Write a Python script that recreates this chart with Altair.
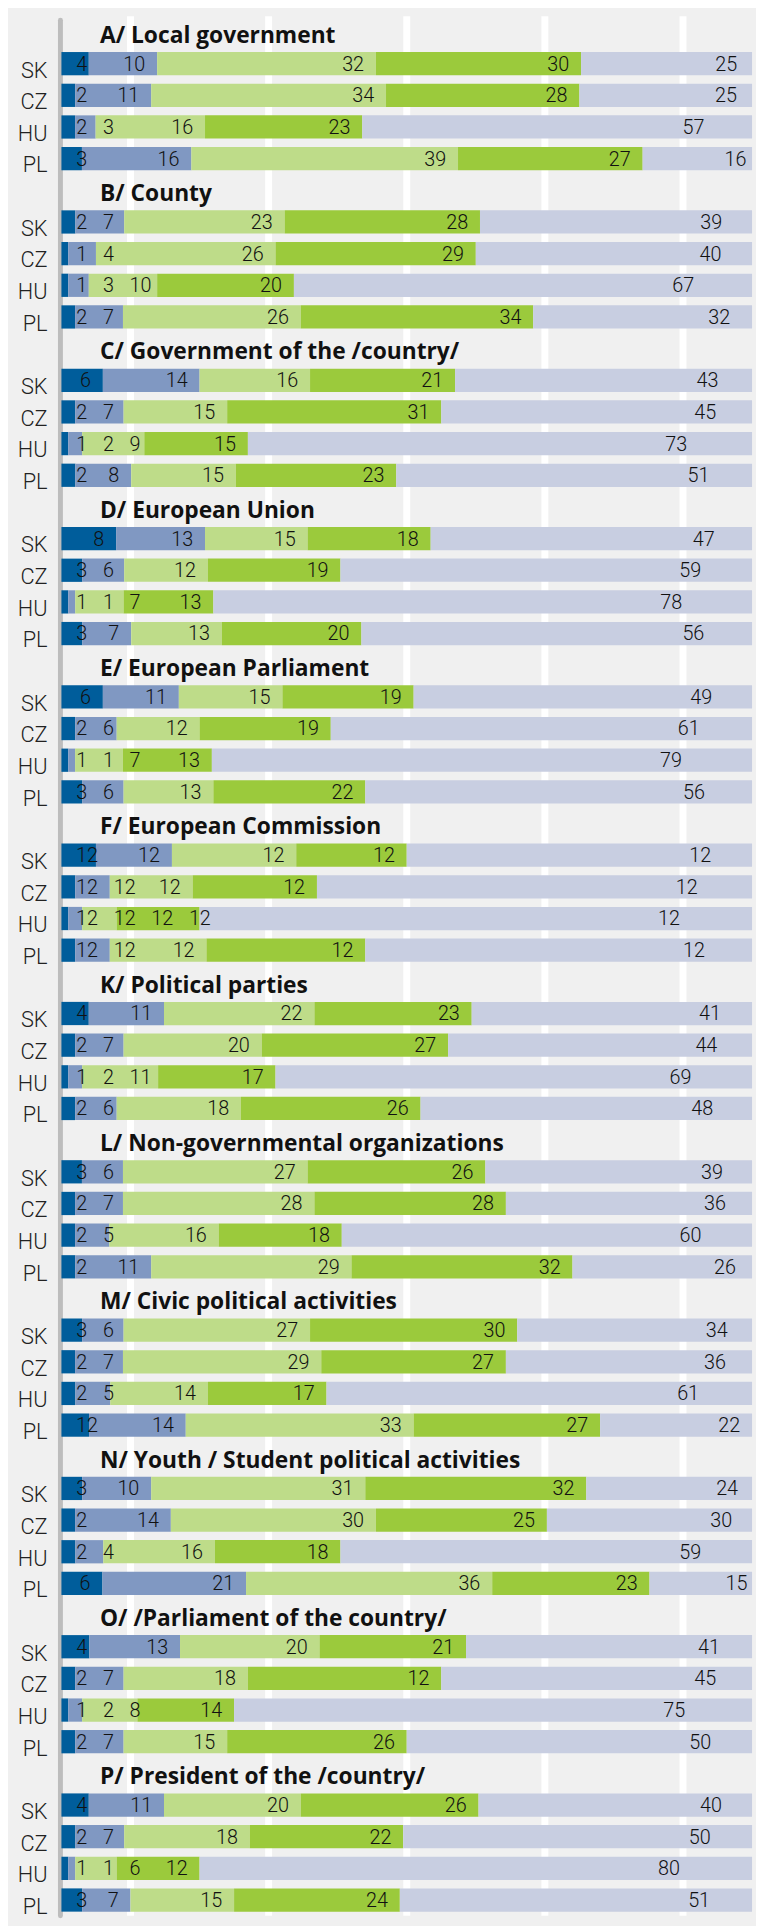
import altair as alt
import pandas as pd

# ---------------- data ----------------
PANEL_TITLES = [
    "A/ Local government",
    "B/ County",
    "C/ Government of the /country/",
    "D/ European Union",
    "E/ European Parliament",
    "F/ European Commission",
    "K/ Political parties",
    "L/ Non-governmental organizations",
    "M/ Civic political activities",
    "N/ Youth / Student political activities",
    "O/ /Parliament of the country/",
    "P/ President of the /country/",
]
COUNTRIES = ["SK", "CZ", "HU", "PL"]
SEGMENTS = ["1", "2", "3", "4", "5"]
COLORS = ["#005d9b", "#8098c2", "#bedc89", "#9bca3c", "#c8cee1"]
GRID_TICKS = [0.1, 0.3, 0.5, 0.7, 0.9]

# bar values (rows: SK, CZ, HU, PL; columns: the five answer categories)
panel_A = [[4, 10, 32, 30, 25], [2, 11, 34, 28, 25], [2, 3, 16, 23, 57], [3, 16, 39, 27, 16]]
panel_B = [[2, 7, 23, 28, 39], [1, 4, 26, 29, 40], [1, 3, 10, 20, 67], [2, 7, 26, 34, 32]]
panel_C = [[6, 14, 16, 21, 43], [2, 7, 15, 31, 45], [1, 2, 9, 15, 73], [2, 8, 15, 23, 51]]
panel_D = [[8, 13, 15, 18, 47], [3, 6, 12, 19, 59], [1, 1, 7, 13, 78], [3, 7, 13, 20, 56]]
panel_E = [[6, 11, 15, 19, 49], [2, 6, 12, 19, 61], [1, 1, 7, 13, 79], [3, 6, 13, 22, 56]]
panel_F = [[5, 11, 18, 16, 50], [2, 5, 12, 18, 63], [1, 2, 5, 12, 80], [2, 5, 14, 23, 56]]
panel_K = [[4, 11, 22, 23, 41], [2, 7, 20, 27, 44], [1, 2, 11, 17, 69], [2, 6, 18, 26, 48]]
panel_L = [[3, 6, 27, 26, 39], [2, 7, 28, 28, 36], [2, 5, 16, 18, 60], [2, 11, 29, 32, 26]]
panel_M = [[3, 6, 27, 30, 34], [2, 7, 29, 27, 36], [2, 5, 14, 17, 61], [4, 14, 33, 27, 22]]
panel_N = [[3, 10, 31, 32, 24], [2, 14, 30, 25, 30], [2, 4, 16, 18, 59], [6, 21, 36, 23, 15]]
panel_O = [[4, 13, 20, 21, 41], [2, 7, 18, 28, 45], [1, 2, 8, 14, 75], [2, 7, 15, 26, 50]]
panel_P = [[4, 11, 20, 26, 40], [2, 7, 18, 22, 50], [1, 1, 6, 12, 80], [3, 7, 15, 24, 51]]

# printed labels where they differ from the bars in the original
labels_F = [[12, 12, 12, 12, 12], [12, 12, 12, 12, 12], [12, 12, 12, 12, 12], [12, 12, 12, 12, 12]]
labels_M = [[3, 6, 27, 30, 34], [2, 7, 29, 27, 36], [2, 5, 14, 17, 61], [12, 14, 33, 27, 22]]
labels_O = [[4, 13, 20, 21, 41], [2, 7, 18, 12, 45], [1, 2, 8, 14, 75], [2, 7, 15, 26, 50]]

BAR_VALUES = [panel_A, panel_B, panel_C, panel_D, panel_E, panel_F,
              panel_K, panel_L, panel_M, panel_N, panel_O, panel_P]
LABEL_VALUES = [panel_A, panel_B, panel_C, panel_D, panel_E, labels_F,
                panel_K, panel_L, labels_M, panel_N, labels_O, panel_P]

# ---------------- layout constants ----------------
W = 698          # plot width
ROW = 32         # band step
H = ROW * 5 * len(PANEL_TITLES) - 2
DIGIT = 11.0     # approx digit width of label font

# ---------------- tables ----------------
keys, bar_rows, lab_rows, cty_rows, title_rows = [], [], [], [], []
for pi, (title, bars, labs) in enumerate(zip(PANEL_TITLES, BAR_VALUES, LABEL_VALUES)):
    tkey = f"{pi:02d}_title"
    keys.append(tkey)
    title_rows.append({"row": tkey, "text": title})
    for ci, c in enumerate(COUNTRIES):
        rkey = f"{pi:02d}_{c}"
        keys.append(rkey)
        cty_rows.append({"row": rkey, "text": c})
        v = bars[ci]
        lv = labs[ci]
        tot = float(sum(v))
        cum = 0.0
        prev_right = None
        for si in range(5):
            bar_rows.append({"row": rkey, "seg": SEGMENTS[si], "order": si, "value": v[si]})
            start = cum / tot * W
            cum += v[si]
            end = cum / tot * W
            tw = DIGIT * len(str(lv[si]))
            if si < 4:
                nat = end - 12
            else:
                nat = start + 0.85 * (end - start) + tw / 2
            mn = 15 + tw if prev_right is None else prev_right + 16 + tw
            r = max(nat, mn)
            prev_right = r
            lab_rows.append({"row": rkey, "text": str(lv[si]), "lx": r / W})

bars_df = pd.DataFrame(bar_rows)
labs_df = pd.DataFrame(lab_rows)
cty_df = pd.DataFrame(cty_rows)
title_df = pd.DataFrame(title_rows)
grid_df = pd.DataFrame({"t": GRID_TICKS})

yscale = alt.Scale(domain=keys, range=[-2, H], paddingInner=0.265, paddingOuter=0.1325)
xscale = alt.Scale(domain=[0, 1], nice=False, zero=True)
Y = alt.Y("row:N", scale=yscale, axis=None)

grid = alt.Chart(grid_df).mark_rule(color="#ffffff", strokeWidth=7).encode(
    x=alt.X("t:Q", scale=xscale, axis=None),
    y=alt.value(-2), y2=alt.value(H),
)

bars = alt.Chart(bars_df).mark_bar(size=23.5).encode(
    x=alt.X("value:Q", stack="normalize", scale=xscale, axis=None),
    y=Y,
    color=alt.Color("seg:N", scale=alt.Scale(domain=SEGMENTS, range=COLORS), legend=None),
    order=alt.Order("order:Q", sort="ascending"),
)

axis_line = alt.Chart(pd.DataFrame({"k": [0]})).mark_rule(
    color="#bdbdbd", strokeWidth=5, strokeCap="round"
).encode(x=alt.value(-1), y=alt.value(2), y2=alt.value(H))

labels = alt.Chart(labs_df).mark_text(
    align="right", baseline="alphabetic", dy=7, font="Roboto", fontSize=20,
    fontWeight=300, color="#111111"
).encode(
    x=alt.X("lx:Q", scale=xscale, axis=None),
    y=Y,
    text="text:N",
)

countries = alt.Chart(cty_df).mark_text(
    align="right", baseline="alphabetic", dy=14, font="Roboto", fontSize=22,
    fontWeight=300, color="#222222"
).encode(x=alt.value(-14), y=Y, text="text:N")

titles = alt.Chart(title_df).mark_text(
    align="left", baseline="alphabetic", dy=11, font="Open Sans", fontSize=23,
    fontWeight="bold", color="#111111"
).encode(x=alt.value(39), y=Y, text="text:N")

chart = alt.layer(grid, axis_line, bars, labels, countries, titles).properties(
    width=W, height=H,
    autosize=alt.AutoSizeParams(type="none"),
    padding={"left": 54, "right": 4, "top": 0, "bottom": 0},
    background="#f0f0f0",
).configure_view(strokeWidth=0)

chart.save("out.html", embed_options={"renderer": "svg", "actions": False})
